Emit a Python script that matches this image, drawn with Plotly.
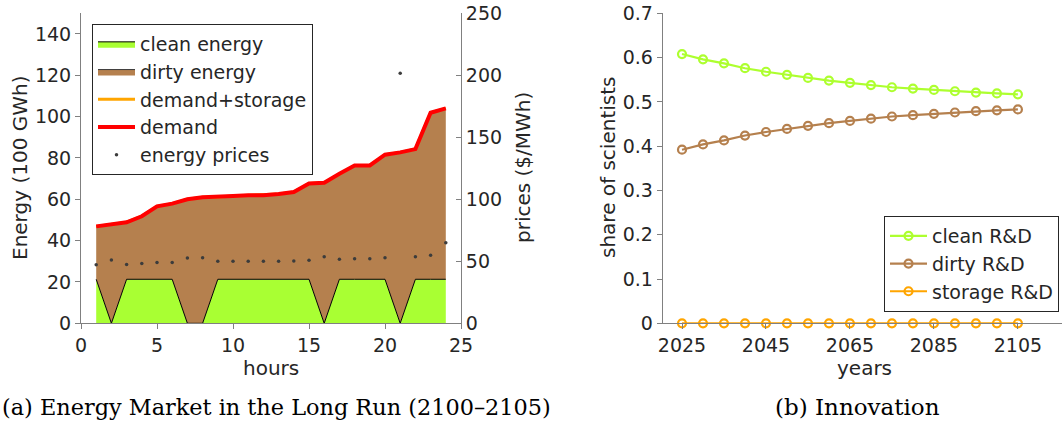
import plotly.graph_objects as go

# ---------------- data: left panel ----------------
hours = list(range(1, 25))
clean_energy = [21.3, 0, 21.3, 21.3, 21.3, 21.3, 0, 0, 21.3, 21.3, 21.3, 21.3,
                21.3, 21.3, 21.3, 0, 21.3, 21.3, 21.3, 21.3, 0, 21.3, 21.3, 21.3]
demand = [46.9, 47.9, 48.9, 51.8, 56.6, 57.9, 60.0, 61.0, 61.1, 61.6, 61.9, 62.0,
          62.6, 63.5, 67.6, 68.0, 72.4, 76.4, 76.4, 81.6, 82.7, 84.3, 101.9, 104.0]
demand_storage = [46.9, 47.9, 48.9, 51.8, 56.6, 57.9, 60.0, 61.0, 61.1, 61.6, 61.9, 62.0,
                  62.6, 63.5, 67.6, 68.0, 72.4, 76.4, 76.4, 81.6, 82.7, 84.3, 101.9, 104.0]
energy_prices = [47.2, 51.0, 47.5, 48.3, 49.1, 49.1, 52.7, 52.9, 50.0, 50.0, 50.0, 50.0,
                 50.0, 50.3, 50.8, 53.7, 51.6, 52.1, 52.1, 52.9, 201.6, 53.7, 54.8, 65.0]

# ---------------- data: right panel ----------------
years = list(range(2025, 2106, 5))
clean_rd = [0.608, 0.596, 0.587, 0.576, 0.568, 0.561, 0.554, 0.548, 0.543,
            0.538, 0.533, 0.530, 0.527, 0.524, 0.521, 0.519, 0.517]
dirty_rd = [0.392, 0.404, 0.413, 0.424, 0.432, 0.439, 0.446, 0.452, 0.457,
            0.462, 0.467, 0.470, 0.473, 0.476, 0.479, 0.481, 0.483]
storage_rd = [0.0] * 17

W, H = 1062, 424
def px_x(p): return p / W
def px_y(p): return 1 - p / H

GREEN = "#A9FF33"
BROWN = "#B5804E"
ORANGE = "#FFA500"
RED = "#FF0000"
TXT = "#262626"
AX = "#808080"
FONT = "DejaVu Sans"

fig = go.Figure()

# left panel
fig.add_trace(go.Scatter(x=hours, y=clean_energy, name="clean energy", mode="lines",
                         line=dict(color="black", width=1), fill="tozeroy",
                         fillcolor=GREEN, xaxis="x", yaxis="y", legend="legend"))
fig.add_trace(go.Scatter(x=hours, y=demand, name="dirty energy", mode="lines",
                         line=dict(color="#3a3a3a", width=1), fill="tonexty",
                         fillcolor=BROWN, xaxis="x", yaxis="y", legend="legend"))
fig.add_trace(go.Scatter(x=hours, y=demand_storage, name="demand+storage", mode="lines",
                         line=dict(color=ORANGE, width=3), xaxis="x", yaxis="y",
                         legend="legend"))
fig.add_trace(go.Scatter(x=hours, y=demand, name="demand", mode="lines",
                         line=dict(color=RED, width=4), xaxis="x", yaxis="y",
                         legend="legend"))
fig.add_trace(go.Scatter(x=hours, y=energy_prices, name="energy prices", mode="markers",
                         marker=dict(color="#3c3c3c", size=3.5), xaxis="x", yaxis="y2",
                         legend="legend"))

# right panel
for name, vals, col in [("clean R&D", clean_rd, "#ADFF2F"),
                        ("dirty R&D", dirty_rd, BROWN),
                        ("storage R&D", storage_rd, ORANGE)]:
    fig.add_trace(go.Scatter(x=years, y=vals, name=name, mode="lines+markers",
                             line=dict(color=col, width=2.2),
                             marker=dict(symbol="circle-open", size=8, color=col,
                                         line=dict(width=2.2, color=col)),
                             xaxis="x3", yaxis="y3", legend="legend2",
                             cliponaxis=False))

ydom = [px_y(323.3), px_y(13.3)]
tickfont = dict(family=FONT, size=19, color=TXT)
common = dict(showgrid=False, zeroline=False, showline=True, linecolor=AX,
              linewidth=1, tickcolor=AX, ticklen=5, tickwidth=1, tickfont=tickfont,
              automargin=False)

LEGFONT = dict(family=FONT, size=19, color=TXT)

fig.update_layout(
    template="none",
    width=W, height=H, margin=dict(l=0, r=0, t=0, b=0, pad=0, autoexpand=False),
    paper_bgcolor="white", plot_bgcolor="white",
    font=dict(family=FONT, color=TXT),
    xaxis=dict(domain=[px_x(81), px_x(461)], range=[0, 25], tickvals=[0, 5, 10, 15, 20, 25],
               ticks="outside", anchor="y", **common),
    yaxis=dict(domain=ydom, range=[0, 150], tickvals=list(range(0, 141, 20)),
               ticks="outside", anchor="x", **common),
    yaxis2=dict(domain=ydom, range=[0, 250], tickvals=list(range(0, 251, 50)),
                overlaying="y", side="right", anchor="x", ticks="inside", **common),
    xaxis3=dict(domain=[px_x(662.7), 1.0], range=[2020.4, 2115.5],
                tickvals=[2025, 2045, 2065, 2085, 2105], ticks="outside", anchor="y3",
                **common),
    yaxis3=dict(domain=ydom, range=[0, 0.7], tickvals=[0, 0.1, 0.2, 0.3, 0.4, 0.5, 0.6, 0.7],
                ticktext=["0", "0.1", "0.2", "0.3", "0.4", "0.5", "0.6", "0.7"],
                ticks="outside", anchor="x3", **common),
    legend=dict(x=px_x(92), y=px_y(24), xanchor="left", yanchor="top",
                bgcolor="white", bordercolor=TXT, borderwidth=1, font=LEGFONT,
                itemwidth=37, tracegroupgap=0, traceorder="normal"),
    legend2=dict(x=px_x(884), y=px_y(312), xanchor="left", yanchor="bottom",
                 bgcolor="white", bordercolor=TXT, borderwidth=1, font=LEGFONT,
                 itemwidth=37, tracegroupgap=0, traceorder="normal"),
    showlegend=True,
)

ann = [
    dict(text="Energy (100 GWh)", x=px_x(20), y=px_y(168), textangle=-90),
    dict(text="prices ($/MWh)", x=px_x(523), y=px_y(168), textangle=-90),
    dict(text="hours", x=px_x(271), y=px_y(368), textangle=0),
    dict(text="share of scientists", x=px_x(608), y=px_y(168), textangle=-90),
    dict(text="years", x=px_x(864), y=px_y(368), textangle=0),
]
for a in ann:
    fig.add_annotation(text=a["text"], x=a["x"], y=a["y"], xref="paper", yref="paper",
                       xanchor="center", yanchor="middle", textangle=a["textangle"],
                       showarrow=False, font=dict(family=FONT, size=20, color=TXT))

fig.add_annotation(text="(a) Energy Market in the Long Run (2100–2105)", x=px_x(553),
                   y=px_y(407), xref="paper", yref="paper", xanchor="right",
                   yanchor="middle", showarrow=False,
                   font=dict(family="DejaVu Serif", size=22.4, color="black"))
fig.add_annotation(text="(b) Innovation", x=px_x(857), y=px_y(407), xref="paper",
                   yref="paper", xanchor="center", yanchor="middle", showarrow=False,
                   font=dict(family="DejaVu Serif", size=23, color="black"))

fig.write_html("out.html")
